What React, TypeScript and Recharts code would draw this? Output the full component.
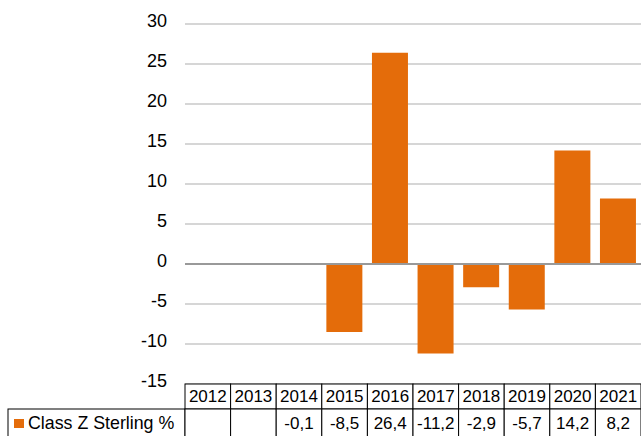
import { BarChart, Bar, XAxis, YAxis, CartesianGrid, ReferenceLine, Customized } from 'recharts';

const years = ['2012', '2013', '2014', '2015', '2016', '2017', '2018', '2019', '2020', '2021'];
const classZ = [null, null, -0.1, -8.5, 26.4, -11.2, -2.9, -5.7, 14.2, 8.2];
const yTicks = [-15, -10, -5, 0, 5, 10, 15, 20, 25, 30];
const seriesName = 'Class Z Sterling %';

const data = years.map((y, i) => ({ year: y, value: classZ[i] }));

const W = 641;
const H = 436;
const LEFT = 185;
const PLOT_BOTTOM = 384;
const ORANGE = '#E46C0A';
const FONT = '"Liberation Sans", Arial, sans-serif';
const cellW = (W - LEFT) / years.length;
const fmt = (v: number | null) => (v == null ? '' : String(v).replace('.', ','));

// y labels sit a little above their gridline
const YTick = (props: any) => {
  const { x, y, payload } = props;
  return (
    <text x={x} y={y + 3} textAnchor="end" fontSize={18} fill="#000" fontFamily={FONT}>{payload.value}</text>
  );
};

// each x tick draws its own column of the data table
const TableTick = (props: any) => {
  const { x, y, index } = props;
  const x0 = x - cellW / 2;
  return (
    <g>
      <rect x={x0} y={y} width={cellW} height={25} fill="#fff" stroke="#000" strokeWidth={1} />
      <rect x={x0} y={y + 25} width={cellW} height={32} fill="#fff" stroke="#000" strokeWidth={1} />
      <text x={x} y={y + 18} textAnchor="middle" fontSize={17} fill="#000" fontFamily={FONT}>{years[index]}</text>
      <text x={x} y={y + 45} textAnchor="middle" fontSize={17} fill="#000" fontFamily={FONT}>{fmt(classZ[index])}</text>
    </g>
  );
};

const LegendCell = () => (
  <g>
    <rect x={8} y={PLOT_BOTTOM + 25} width={LEFT - 8} height={32} fill="#fff" stroke="#000" strokeWidth={1} />
    <rect x={14} y={419} width={10} height={9} fill={ORANGE} />
    <text x={28} y={429} fontSize={17.8} fill="#000" fontFamily={FONT}>{seriesName}</text>
  </g>
);

export default function App() {
  return (
    <div style={{ position: 'absolute', left: 0, top: 0, background: '#fff' }}>
      <BarChart width={W} height={H} data={data} margin={{ top: 24, right: 0, bottom: 0, left: 0 }} barCategoryGap="10%">
        <CartesianGrid vertical={false} stroke="#c8c8c8" strokeWidth={1.5} />
        <YAxis
          domain={[-15, 30]}
          ticks={yTicks}
          width={LEFT}
          axisLine={false}
          tickLine={false}
          tickSize={0}
          tickMargin={18}
          interval={0}
          tick={<YTick />}
        />
        <XAxis
          dataKey="year"
          height={H - PLOT_BOTTOM}
          axisLine={false}
          tickLine={false}
          tickSize={0}
          tickMargin={0}
          interval={0}
          tick={<TableTick />}
        />
        <ReferenceLine y={0} stroke="#999" strokeWidth={2} />
        <Bar dataKey="value" name={seriesName} fill={ORANGE} isAnimationActive={false} />
        <Customized component={LegendCell} />
      </BarChart>
    </div>
  );
}
